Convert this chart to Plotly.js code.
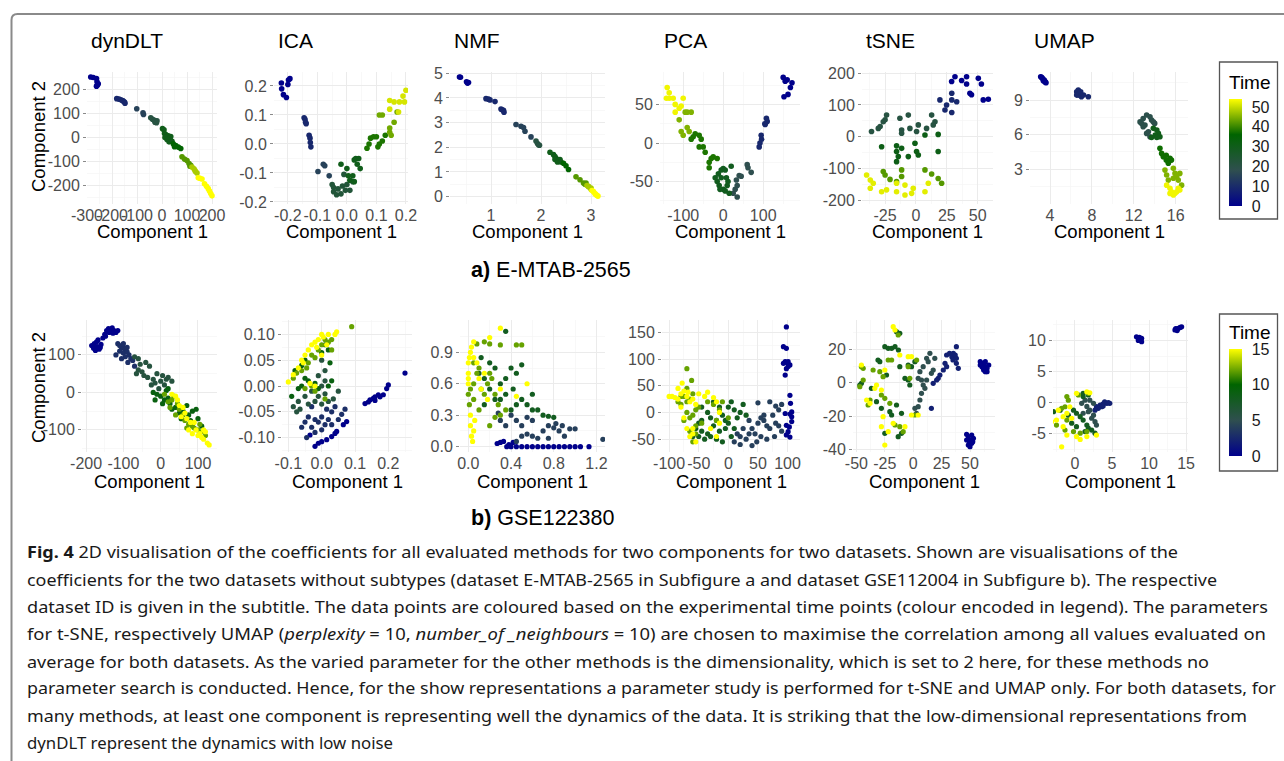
<!DOCTYPE html>
<html><head><meta charset="utf-8">
<script src="https://cdn.plot.ly/plotly-3.0.1.min.js"></script>
<style>html,body{margin:0;padding:0;background:#fff;}#chart{width:1284px;height:761px;}</style>
</head><body><div id="chart"></div>
<script>
// ---------------- DATA ----------------
const METHODS = ["dynDLT", "ICA", "NMF", "PCA", "tSNE", "UMAP"];
const DATASET_A = "E-MTAB-2565";
const DATASET_B = "GSE122380";
const TIME_MAX_A = 54;
const TIME_MAX_B = 15;
const TIME_TICKS_A = [0, 10, 20, 30, 40, 50];
const TIME_TICKS_B = [0, 5, 10, 15];

// each entry: [time, [[component1, component2], ...]]
const A_DYNDLT = [
 [0, [[-285,250],[-275,248],[-262,244],[-260,230],[-255,222],[-258,217],[-262,212]]],
 [9, [[-181,160],[-172,158],[-165,155],[-158,152],[-155,150],[-150,146],[-148,141]]],
 [15, [[-101,118],[-76,101],[-74,94]]],
 [21, [[-45,80],[-38,74],[-30,70],[-25,66],[-20,68],[-28,62],[-22,60]]],
 [30, [[2,35],[8,30],[10,15],[18,5],[15,10],[20,0],[25,5],[12,-2],[30,-5],[35,2],[20,-10],[35,-15],[28,-20],[40,-18]]],
 [36, [[45,-28],[55,-35],[50,-40],[65,-42],[75,-48]]],
 [42, [[80,-82],[90,-92],[100,-98],[108,-110],[115,-118],[112,-122]]],
 [48, [[120,-125],[128,-132],[132,-140],[140,-150],[135,-145]]],
 [54, [[145,-170],[152,-172],[160,-175],[170,-195],[178,-205],[185,-215],[190,-225],[195,-235],[200,-245]]]
];
const A_ICA = [
 [0, [[-0.222,0.21],[-0.221,0.19],[-0.215,0.17],[-0.205,0.16],[-0.198,0.22],[-0.193,0.225],[-0.2,0.205]]],
 [9, [[-0.145,0.09],[-0.142,0.085],[-0.14,0.075],[-0.138,0.07],[-0.128,0.03],[-0.125,0.02],[-0.124,0.005],[-0.122,-0.01]]],
 [15, [[-0.098,-0.095],[-0.08,-0.07],[-0.075,-0.075],[-0.06,-0.11]]],
 [23, [[-0.05,-0.14],[-0.045,-0.15],[-0.045,-0.165],[-0.035,-0.175],[-0.03,-0.155],[-0.02,-0.172],[-0.015,-0.145],[-0.005,-0.16],[0.0,-0.14],[0.01,-0.16],[0.02,-0.13],[-0.01,-0.105]]],
 [30, [[-0.02,-0.07],[0.0,-0.085],[0.005,-0.11],[0.01,-0.125],[0.025,-0.13],[0.02,-0.11],[0.04,-0.05],[0.045,-0.085],[0.03,-0.05],[0.025,-0.055],[0.035,-0.07]]],
 [38, [[0.068,-0.015],[0.075,0.0],[0.08,0.02],[0.09,0.025],[0.1,0.025],[0.11,0.0],[0.105,-0.01],[0.12,0.01],[0.13,0.03]]],
 [44, [[0.11,0.1],[0.12,0.1],[0.145,0.055],[0.16,0.075],[0.145,0.04],[0.15,0.03],[0.17,0.11]]],
 [51, [[0.145,0.15],[0.16,0.145],[0.178,0.145],[0.19,0.165],[0.2,0.185],[0.175,0.11],[0.145,0.12],[0.195,0.145]]]
];
const A_NMF = [
 [0, [[0.37,4.85],[0.39,4.84],[0.51,4.65],[0.53,4.6],[0.55,4.62]]],
 [9, [[0.9,3.97],[0.95,3.95],[0.98,3.92],[1.08,3.85],[1.2,3.55],[1.22,3.52],[1.25,3.5],[1.26,3.42]]],
 [15, [[1.5,2.92],[1.6,2.85],[1.65,2.8],[1.68,2.65],[1.8,2.42]]],
 [21, [[1.9,2.25],[1.93,2.15],[1.95,2.1],[1.97,2.08]]],
 [30, [[2.18,1.8],[2.25,1.7],[2.28,1.62],[2.3,1.55],[2.32,1.5],[2.28,1.5],[2.35,1.45],[2.38,1.5],[2.33,1.4],[2.4,1.4]]],
 [36, [[2.45,1.35],[2.5,1.25],[2.55,1.1]]],
 [42, [[2.7,0.8],[2.78,0.68],[2.85,0.55],[2.9,0.55],[2.88,0.5]]],
 [48, [[2.92,0.45],[2.95,0.4],[2.95,0.42],[3.0,0.35],[3.0,0.3]]],
 [54, [[3.02,0.25],[3.05,0.2],[3.08,0.12],[3.1,0.08],[3.12,0.04],[3.14,0.02]]]
];
const A_PCA = [
 [0, [[150,85],[155,80],[160,82],[172,78],[168,72],[162,63],[152,60]]],
 [9, [[108,32],[110,28],[104,25],[105,24],[95,10],[96,5],[92,0],[90,-5]]],
 [18, [[60,-28],[62,-32],[70,-38],[40,-42],[45,-43],[33,-48],[35,-55],[35,-70],[30,-60],[25,-65]]],
 [29, [[-15,-50],[-10,-55],[-5,-45],[0,-60],[5,-62],[10,-55],[15,-65],[20,-30],[-5,-35],[0,-33],[-20,-45],[-12,-40],[5,-35],[-8,-60],[12,-50],[8,-45]]],
 [38, [[-30,-20],[-35,-25],[-25,-18],[-15,-20],[-35,-32],[-45,-12],[-50,-5],[-55,5],[-60,10],[-70,12],[-75,8],[-80,5],[-60,-5]]],
 [45, [[-85,15],[-90,20],[-100,10],[-105,15],[-90,40],[-95,40],[-110,30],[-80,40]]],
 [53, [[-140,72],[-135,65],[-135,58],[-142,58],[-125,58],[-120,50],[-110,45],[-120,40],[-100,58],[-105,48]]]
];
const A_TSNE = [
 [0, [[28.9,174],[31.6,189],[37,177],[41,189],[41,166],[50.5,184],[53,166],[43.7,137],[45,132],[54.5,116],[58.6,118]]],
 [9, [[33,110],[29,116],[29,137],[24.8,100],[23.5,84],[29,76],[19.4,116]]],
 [21, [[12.7,68],[15.4,47],[14,37],[8.6,26],[1.9,37],[0.5,16],[-4.9,26],[-11.6,21],[-11.6,10.5],[-13,58],[-6.2,68],[-25,53],[-23.8,68],[-26.5,47],[-29,32],[-30.5,26],[-36,16]]],
 [31, [[7.3,5],[18,7],[-27.8,-32],[-15.7,-29],[-15.7,-47],[-11.6,-37],[-0.8,-21],[0.5,-47],[1.9,-58],[-6.2,-63],[-14.3,-63],[-15.7,-79],[18,-47]]],
 [42, [[-26.5,-110],[-25,-121],[-11.6,-105],[-11.6,-126],[-21,-135],[-15.7,-142],[7.3,-105],[12.7,-118],[18,-132],[20.8,-147]]],
 [52, [[-40,-121],[-37,-137],[-34.6,-147],[-37,-163],[-27.8,-174],[-23.8,-168],[-15.7,-174],[-8.9,-184],[-8.9,-153],[-3.5,-179],[-2.2,-163],[7.3,-174],[10,-147],[-15.7,-147]]]
];
const A_UMAP = [
 [0, [[3.11,11.03],[3.2,10.97],[3.3,10.88],[3.36,10.68],[3.45,10.75],[3.52,10.6],[3.62,10.5],[3.55,10.56]]],
 [9, [[6.55,9.72],[6.7,9.87],[6.86,9.58],[7.0,9.29],[6.7,9.43],[7.2,9.43],[7.66,9.29],[6.55,9.43],[6.93,9.72]]],
 [19, [[12.6,7.1],[12.75,6.97],[12.9,7.4],[13.23,7.7],[13.55,7.55],[13.7,7.26],[13.87,7.1],[14.0,6.97],[13.07,6.83],[12.9,6.68],[13.4,6.25],[13.23,6.1],[13.55,5.81]]],
 [30, [[13.87,6.54],[14.2,6.4],[14.35,6.1],[14.5,5.81],[14.05,5.95],[13.7,5.75],[14.2,5.75]]],
 [37, [[14.5,4.8],[14.66,4.36],[14.82,4.07],[15.1,4.2],[15.46,3.93],[15.6,3.78],[15.1,3.78],[15.3,3.5]]],
 [45, [[14.98,2.91],[15.14,2.48],[15.78,3.06],[15.94,2.62],[16.1,2.33],[16.4,2.62],[16.25,2.04],[16.57,1.6],[15.3,2.04],[15.78,2.2]]],
 [53, [[15.14,1.6],[15.46,1.32],[15.6,1.03],[15.78,0.74],[16.1,1.03],[16.25,1.32],[15.94,0.9],[16.4,1.17],[15.46,0.88]]]
];

const B_DYNDLT = [
 [0, [[-185,125],[-180,118],[-178,130],[-172,135],[-170,122],[-165,115],[-168,140],[-160,128],[-155,145],[-150,155],[-145,165],[-140,170],[-135,168],[-130,172],[-125,165],[-128,158],[-138,160],[-120,160],[-115,165],[-175,112],[-162,120],[-148,150]]],
 [3, [[-115,130],[-110,125],[-105,120],[-100,118],[-95,115],[-100,105],[-90,108],[-85,100],[-95,95],[-80,90],[-75,85],[-110,110],[-120,100],[-105,90],[-88,80],[-70,70],[-100,130],[-90,120]]],
 [6, [[-70,95],[-60,90],[-55,75],[-60,60],[-50,55],[-40,80],[-30,70],[-45,45],[-35,40],[-20,35],[-10,50],[-15,25],[0,30],[5,45],[10,20],[15,35],[20,40],[-25,20],[-5,10],[30,30],[-65,50]]],
 [9, [[-20,0],[-10,-5],[0,-10],[10,-20],[15,5],[20,-15],[5,-30],[25,-30],[30,-45],[40,-40],[50,-55],[60,-50],[70,-35],[75,-60],[85,-50],[95,-45],[80,-75],[100,-70],[20,10],[-15,-20],[110,-90],[55,-70]]],
 [12, [[10,-5],[20,-25],[30,-20],[35,-10],[45,-30],[50,-45],[60,-60],[65,-75],[75,-85],[85,-90],[90,-95],[100,-100],[105,-85],[110,-105],[40,-60],[70,-95],[120,-115],[25,-40]]],
 [15, [[30,-5],[40,-10],[45,-20],[50,-35],[60,-40],[65,-55],[55,-65],[70,-70],[80,-80],[90,-80],[95,-100],[100,-115],[110,-120],[115,-125],[125,-135],[130,-140],[120,-105],[85,-110],[75,-100],[105,-110],[115,-100]]]
];
const B_ICA = [
 [0, [[0.13,-0.034],[0.145,-0.027],[0.155,-0.024],[0.16,-0.021],[0.17,-0.017],[0.175,-0.021],[0.185,-0.017],[0.195,-0.005],[0.2,0.002],[0.25,0.025],[0.16,-0.028],[0.14,-0.031],
      [-0.02,-0.117],[-0.01,-0.111],[0.0,-0.108],[0.015,-0.104],[0.03,-0.098],[0.04,-0.092],[0.045,-0.088],[0.075,-0.069],[-0.035,-0.095],[0.065,-0.075]]],
 [3, [[-0.06,-0.08],[-0.05,-0.07],[-0.04,-0.06],[-0.03,-0.08],[-0.02,-0.065],[-0.01,-0.07],[0,-0.06],[0.01,-0.075],[0.02,-0.065],[0.03,-0.05],[0.04,-0.04],[-0.03,-0.04],[-0.02,-0.09],[0.03,-0.075],[0.05,-0.065],[0.07,-0.045],[0.06,-0.055],[-0.045,-0.1],[0.0,-0.085],[0.015,-0.045]]],
 [6, [[-0.07,-0.03],[-0.065,-0.045],[-0.05,-0.02],[-0.04,-0.035],[-0.03,-0.01],[-0.02,-0.03],[-0.01,-0.02],[0,-0.035],[0.01,-0.015],[0.02,-0.03],[0.035,-0.025],[0.05,-0.01],[-0.075,-0.05],[-0.085,-0.04],[0.0,0.0],[0.01,0.03],[-0.01,0.02],[0.0,0.05],[0.01,0.01]]],
 [9, [[-0.09,-0.02],[-0.07,-0.005],[-0.06,0.0],[-0.05,0.015],[-0.04,0.01],[-0.02,0.005],[-0.01,-0.005],[0.02,0.0],[0.03,0.01],[-0.06,0.04],[-0.05,0.05],[0.0,0.065],[0.02,0.07],[0.01,0.08],[-0.08,0.03],[0.025,0.045]]],
 [12, [[-0.085,0.015],[-0.075,0.025],[-0.06,0.03],[-0.04,0.045],[-0.03,0.06],[-0.045,0.035],[-0.02,0.055],[-0.01,0.07],[0.0,0.08],[0.01,0.09],[0.02,0.085],[0.03,0.07],[-0.05,-0.005],[-0.02,-0.01],[0.03,0.09],[0.09,0.115],[-0.03,0.0],[0.01,-0.025]]],
 [15, [[-0.1,0.008],[-0.085,0.022],[-0.07,0.035],[-0.055,0.045],[-0.05,0.06],[-0.04,0.07],[-0.03,0.08],[-0.02,0.085],[-0.01,0.09],[0.0,0.1],[0.005,0.095],[0.02,0.1],[0.04,0.1],[0.045,0.105],[-0.06,0.05],[-0.015,0.075],[0.015,0.08],[0.0,0.06],[-0.02,0.0],[-0.035,0.005]]]
];
const B_NMF = [
 [0, [[0.36,0.0],[0.4,0.0],[0.45,0.0],[0.5,0.0],[0.55,0.0],[0.6,0.0],[0.65,0.0],[0.7,0.0],[0.75,0.0],[0.8,0.0],[0.85,0.0],[0.9,0.0],[0.95,0.0],[1.0,0.0],[1.05,0.0],[1.13,0.0],[0.38,0.02],[0.42,0.04],[0.3,0.04],[0.27,0.03],[0.33,0.05]]],
 [4, [[0.28,0.32],[0.3,0.25],[0.35,0.2],[0.4,0.3],[0.45,0.25],[0.5,0.2],[0.55,0.12],[0.6,0.1],[0.7,0.15],[0.75,0.2],[0.8,0.18],[0.85,0.15],[0.9,0.1],[0.95,0.17],[1.0,0.17],[0.82,0.22],[0.65,0.08],[0.45,0.05],[0.5,0.1],[0.75,0.08],[0.88,0.2],[1.26,0.07],[0.6,0.25],[0.55,0.28]]],
 [8, [[0.1,0.7],[0.15,0.65],[0.2,0.8],[0.25,0.75],[0.3,0.6],[0.35,0.65],[0.4,0.75],[0.45,0.7],[0.5,0.78],[0.42,0.55],[0.5,0.45],[0.55,0.4],[0.6,0.5],[0.65,0.35],[0.7,0.3],[0.75,0.29],[0.8,0.28],[0.3,0.45],[0.35,0.5],[0.2,0.55],[0.25,0.45],[0.15,0.4],[0.6,0.35],[0.4,0.35],[0.45,0.4],[0.35,1.1],[0.12,0.85]]],
 [12, [[0.0,0.5],[0.02,0.55],[0.05,0.6],[0.08,0.7],[0.1,0.75],[0.12,0.55],[0.15,0.5],[0.18,0.6],[0.2,0.7],[0.22,0.65],[0.25,0.5],[0.28,0.4],[0.3,0.3],[0.35,0.35],[0.05,0.45],[0.1,0.35],[0.2,0.2],[0.3,0.97],[0.5,0.97],[0.45,0.97],[0.05,0.8],[0.15,1.0],[0.2,0.98],[0.08,0.98],[0.25,0.28],[0.01,0.4]]],
 [15, [[0.0,0.6],[0.0,0.7],[0.0,0.8],[0.01,0.85],[0.02,0.9],[0.03,0.95],[0.05,0.85],[0.08,0.8],[0.1,0.65],[0.12,0.55],[0.15,0.7],[0.18,0.45],[0.2,1.04],[0.3,1.13],[0.05,1.0],[0.0,0.65],[0.04,0.05],[0.03,0.1],[0.05,0.15],[0.02,0.2],[0.06,0.25],[0.02,0.3],[0.45,0.48],[0.55,0.6],[0.3,0.55]]]
];
const B_PCA = [
 [0, [[98,160],[93,123],[98,120],[96,95],[99,93],[101,95],[104,89],[98,82],[96,70],[101,86],[93,92],[104,32],[105,17],[107,1],[104,-3],[107,-17],[98,-24],[101,-36],[98,-42],[104,-46],[107,-8],[103,-27],[96,-2]]],
 [4, [[40,-30],[45,-40],[50,-20],[55,-10],[60,-15],[65,-25],[70,-30],[75,-5],[80,-20],[85,5],[90,-35],[78,-45],[65,-50],[55,-45],[48,-55],[40,-62],[35,-40],[30,-50],[25,-30],[20,-45],[15,-40],[60,-5],[70,20],[80,12],[50,18],[90,15],[35,-15],[85,-25],[10,-55],[20,-60]]],
 [8, [[-30,-10],[-20,-15],[-10,-5],[0,10],[5,20],[10,5],[15,-10],[20,0],[25,15],[30,-5],[0,-20],[-5,-30],[10,-30],[-15,-35],[-25,-25],[-35,-40],[-45,-35],[-55,-30],[-40,-50],[-30,-45],[-50,-45],[-20,-50],[-45,-15],[-60,-45],[-10,-55],[5,-45],[-35,0],[-15,10],[-25,20],[-45,10],[-5,-15],[-50,-20]]],
 [12, [[-70,0],[-65,-10],[-75,-15],[-60,-5],[-55,5],[-50,10],[-65,25],[-60,35],[-70,20],[-80,15],[-75,30],[-55,-25],[-65,-35],[-60,-55],[-55,-40],[-45,-20],[-35,20],[-25,15],[-15,5],[-20,-15],[-10,20],[0,-10],[-70,45],[-62,60],[-70,82],[-80,30],[-85,20]]],
 [15, [[-100,30],[-95,30],[-90,28],[-85,25],[-80,35],[-75,40],[-70,30],[-65,20],[-85,45],[-78,55],[-68,38],[-60,25],[-55,15],[-50,35],[-40,30],[-35,38],[-25,28],[-20,20],[-15,0],[-15,-20],[-20,-45],[-30,-30],[-60,-40],[-70,-30],[-75,-10],[-65,-45],[-55,-55],[-60,-30],[-80,10]]]
];
const B_TSNE = [
 [0, [[59,12.6],[60.5,11.6],[62,10.6],[63.5,9.6],[65,8.6],[62,7.6],[65,6.6],[60.5,9.6],[63.5,12.6],[66.5,10.6],[59,10.6],[63.5,6.6],[61.7,8.6],
      [47,-31],[48.5,-32.4],[50,-34.4],[51.5,-36.4],[48.5,-37.4],[50,-38.4],[53,-33.4],[47,-34.4],[51.5,-31.4],[49.4,-36],[52.4,-35.4]]],
 [2, [[29.4,16.6],[32,17.6],[34,15.6],[35.3,17.6],[37,16.6],[38,14.6],[35,13.6],[38,11.6],[39.7,8.6],[38,21.6],[28,11.6],[29.4,9.6],[26.5,7.6],[23.5,4.6],[22,2.6],[20.6,1.6],[17.6,-0.4],[16,-15.4]]],
 [5, [[14.7,17.6],[11.8,14.6],[13.2,12.6],[8.8,9.6],[5.9,6.6],[4.4,2.6],[7.3,1.6],[8.8,-1.4],[10.3,-3.4],[7.3,-6.4],[5.9,-10.4],[4.4,-14.4],[2.9,-18.4],[1.5,-15.4],[19,14.6],[17.6,7.6],[16,5.6],[11.8,1.6]]],
 [8, [[-3,-1.4],[-4.4,1.6],[-7.3,2.6],[-1.5,9.6],[-4.4,10.6],[1.5,12.6],[-11.8,9.6],[-19,20.6],[-25,21.6],[-22,20.6],[-16,21.6],[-13,19.6],[-29.4,12.6],[-31,13.6],[-23.5,4.6],[-36.8,-3.4],[-32.3,-11.4],[-28,-15.4],[-20.6,-17.4],[-19,-19.4],[-14.7,-13.4],[-10.3,-18.4],[-13.2,-32.4],[-25,-30.4],[-10.3,-30.4],[-11.8,29.6],[-14.7,30.6],[-47,-1.4],[-45.6,-0.4]]],
 [12, [[-45.6,9.6],[-44,8.6],[-35.3,7.6],[-29.4,6.6],[-26.5,3.6],[-28,-7.4],[-25,-9.4],[-38,-10.4],[-39.7,-13.4],[-20.6,-12.4],[-16,-25.4],[-11.8,-26.4],[-8.8,-29.4],[-4.4,9.6],[-3,2.6],[3,13.6],[1.5,-19.4],[-44,1.6],[-47,-2.4],[-22,13.6],[-19,13.6],[-13.2,28.6]]],
 [15, [[-45.6,10.6],[-32.3,-1.4],[-33.8,-3.4],[-25,7.6],[-28,-26.4],[-26.5,-20.4],[-22,-29.4],[-17.6,-24.4],[-7.3,-26.4],[-4.4,15.6],[-1.5,15.6],[4.4,-19.4],[-1.5,-19.4],[-17.6,33.6],[-16,31.6],[-25,-37.4],[-38,-12.4],[-28,-4.4],[-11.8,16.6],[-41,-10.4]]]
];
const B_UMAP = [
 [0, [[13.5,11.7],[13.7,11.85],[13.95,11.95],[14.2,12.1],[14.4,12.2],[13.8,11.6],[13.6,11.9],
      [8.3,10.6],[8.55,10.35],[8.8,10.1],[9.0,9.8],[8.7,10.5],[8.9,10.2],[8.55,10.0],[9.0,10.35]]],
 [2, [[2.9,-0.64],[3.4,-0.4],[3.8,-0.2],[4.3,-0.1],[4.7,-0.1],[4.0,0.15],[3.6,-0.64],[3.15,-0.9],[2.7,-1.2],[4.5,0.0],[3.8,-0.55]]],
 [5, [[2.5,-2],[2,-1.2],[1.6,-0.6],[1.8,-1.45],[2.25,-2.5],[2.7,-3.05],[2.9,-3.6],[1.1,-1.7],[0.9,-0.1],[1.35,0.4],[2.0,0.4],[2.5,-0.1]]],
 [8, [[0.2,-1.7],[0.7,-2.25],[1.1,-2.8],[1.6,-3.6],[1.8,-4.1],[2.25,-4.4],[1.35,-4.65],[0.2,-3.85],[-0.45,-3.3],[-0.9,-2],[-0.2,-1.2],[1.1,1.0],[1.8,1.25],[1.1,1.5],[2.7,-4.9],[-2.9,-1.45],[-2,-1.2]]],
 [12, [[-1.1,1.0],[-0.9,0.4],[-1.35,-0.65],[-1.8,-0.9],[-1.1,-2.8],[-0.2,-4.65],[0.7,-4.9],[1.6,-4.65],[1.8,1.5],[0.45,1.25],[-3.4,-2],[-2.5,-3.6],[-1.35,-4.4]]],
 [15, [[-3.4,-1.7],[-3.15,-3.05],[-2.5,-2.8],[-1.6,-3.85],[-1.1,-5.2],[0.2,-5.45],[0.7,-5.9],[1.6,-5.45],[2.9,-5.2],[-1.8,-7.1],[1.6,1.75],[2.0,1.6],[0.2,1.5],[-0.7,-0.65],[-1.1,-1.7],[-1.6,-2.25],[-0.45,-2.5],[-2.25,-1.2]]]
];

// tick values / labels
const TK = {
 a_dyn_x: [-300,-200,-100,0,100,200], a_dyn_y: [-200,-100,0,100,200],
 a_ica_x: [-0.2,-0.1,0,0.1,0.2], a_ica_xl: ["-0.2","-0.1","0.0","0.1","0.2"],
 a_ica_y: [-0.2,-0.1,0,0.1,0.2], a_ica_yl: ["-0.2","-0.1","0.0","0.1","0.2"],
 a_nmf_x: [1,2,3], a_nmf_y: [0,1,2,3,4,5],
 a_pca_x: [-100,0,100], a_pca_y: [-50,0,50],
 a_tsne_x: [-25,0,25,50], a_tsne_y: [-200,-100,0,100,200],
 a_umap_x: [4,8,12,16], a_umap_y: [3,6,9],
 b_dyn_x: [-200,-100,0,100], b_dyn_y: [-100,0,100],
 b_ica_x: [-0.1,0,0.1,0.2], b_ica_xl: ["-0.1","0.0","0.1","0.2"],
 b_ica_y: [-0.1,-0.05,0,0.05,0.1], b_ica_yl: ["-0.10","-0.05","0.00","0.05","0.10"],
 b_nmf_x: [0,0.4,0.8,1.2], b_nmf_xl: ["0.0","0.4","0.8","1.2"],
 b_nmf_y: [0,0.3,0.6,0.9], b_nmf_yl: ["0.0","0.3","0.6","0.9"],
 b_pca_x: [-100,-50,0,50,100], b_pca_y: [-50,0,50,100,150],
 b_tsne_x: [-50,-25,0,25,50], b_tsne_y: [-40,-20,0,20],
 b_umap_x: [0,5,10,15], b_umap_y: [-5,0,5,10]
};

const CAPTION = [
 "<b>Fig. 4</b> 2D visualisation of the coefficients for all evaluated methods for two components for two datasets. Shown are visualisations of the",
 "coefficients for the two datasets without subtypes (dataset E-MTAB-2565 in Subfigure a and dataset GSE112004 in Subfigure b). The respective",
 "dataset ID is given in the subtitle. The data points are coloured based on the experimental time points (colour encoded in legend). The parameters",
 "for t-SNE, respectively UMAP (<i>perplexity</i> = 10, <i>number_of _neighbours</i> = 10) are chosen to maximise the correlation among all values evaluated on",
 "average for both datasets. As the varied parameter for the other methods is the dimensionality, which is set to 2 here, for these methods no",
 "parameter search is conducted. Hence, for the show representations a parameter study is performed for t-SNE and UMAP only. For both datasets, for",
 "many methods, at least one component is representing well the dynamics of the data. It is striking that the low-dimensional representations from",
 "dynDLT represent the dynamics with low noise"
];

// ---------------- LAYOUT ----------------
const W = 1284, H = 761;
const PX = v => v / W, PY = v => 1 - v / H;
const FONT = "Liberation Sans";
const CSCALE = [[0,'#00008B'],[1/3,'#2F4F4F'],[2/3,'#006400'],[1,'#FFFF00']];

const PANELS = [
 {d:A_DYNDLT, box:[87,217,72,204], xr:[-300,220], yr:[-279,271], xt:TK.a_dyn_x, yt:TK.a_dyn_y, ca:'coloraxis'},
 {d:A_ICA, box:[274,408,72,204], xr:[-0.247,0.207], yr:[-0.207,0.248], xt:TK.a_ica_x, xl:TK.a_ica_xl, yt:TK.a_ica_y, yl:TK.a_ica_yl, ca:'coloraxis'},
 {d:A_NMF, box:[450,605,72,204], xr:[0.18,3.28], yr:[-0.3,5.05], xt:TK.a_nmf_x, yt:TK.a_nmf_y, ca:'coloraxis'},
 {d:A_PCA, box:[660,800,72,204], xr:[-158,192], yr:[-79,92], xt:TK.a_pca_x, yt:TK.a_pca_y, ca:'coloraxis'},
 {d:A_TSNE, box:[862,993,72,204], xr:[-43.7,62.4], yr:[-212.6,204], xt:TK.a_tsne_x, yt:TK.a_tsne_y, ca:'coloraxis'},
 {d:A_UMAP, box:[1030,1188,72,204], xr:[2.09,17.18], yr:[-0.04,11.44], xt:TK.a_umap_x, yt:TK.a_umap_y, ca:'coloraxis'},
 {d:B_DYNDLT, box:[82,217,320,452], xr:[-211,151], yr:[-159,193], xt:TK.b_dyn_x, yt:TK.b_dyn_y, ca:'coloraxis2'},
 {d:B_ICA, box:[282,412,320,452], xr:[-0.119,0.271], yr:[-0.128,0.128], xt:TK.b_ica_x, xl:TK.b_ica_xl, yt:TK.b_ica_y, yl:TK.b_ica_yl, ca:'coloraxis2'},
 {d:B_NMF, box:[460,605,320,452], xr:[-0.078,1.28], yr:[-0.051,1.208], xt:TK.b_nmf_x, xl:TK.b_nmf_xl, yt:TK.b_nmf_y, yl:TK.b_nmf_yl, ca:'coloraxis2'},
 {d:B_PCA, box:[662,800,320,452], xr:[-112,121], yr:[-74,173], xt:TK.b_pca_x, yt:TK.b_pca_y, ca:'coloraxis2'},
 {d:B_TSNE, box:[853,995,320,452], xr:[-53,72], yr:[-41.6,37.6], xt:TK.b_tsne_x, yt:TK.b_tsne_y, ca:'coloraxis2'},
 {d:B_UMAP, box:[1053,1188,320,452], xr:[-2.97,15.26], yr:[-7.93,13.3], xt:TK.b_umap_x, yt:TK.b_umap_y, ca:'coloraxis2'}
];

function minorVals(vals, range){
  const step = vals[1] - vals[0], out = [];
  for (let k = -2; k <= vals.length + 2; k++) {
    const v = vals[0] + (k - 0.5) * step;
    if (v > range[0] && v < range[1]) out.push(v);
  }
  return out;
}
function axis(dom, range, vals, labels, anchor, isY){
  return {
    domain: dom, range: range, anchor: anchor, fixedrange: true, automargin: false,
    tickmode: 'array', tickvals: vals, ticktext: labels || vals.map(String), tickangle: 0,
    showgrid: true, gridcolor: '#EBEBEB', gridwidth: 1, zeroline: false, showline: false,
    ticks: isY ? 'outside' : '', ticklen: 3, tickwidth: 1, tickcolor: '#8a8a8a',
    tickfont: {family: FONT, size: 16, color: '#4D4D4D'},
    minor: {tickmode: 'array', tickvals: minorVals(vals, range), showgrid: true, gridcolor: '#F5F5F5', gridwidth: 0.7, ticks: ''}
  };
}

const traces = [];
const layout = {
  width: W, height: H, margin: {l:0, r:0, t:0, b:0},
  paper_bgcolor: '#fff', plot_bgcolor: '#fff', showlegend: false,
  font: {family: FONT, color: '#000'},
  annotations: [], shapes: []
};

PANELS.forEach((p, i) => {
  const n = i + 1, xs = [], ys = [], ts = [];
  p.d.forEach(g => g[1].forEach(pt => { xs.push(pt[0]); ys.push(pt[1]); ts.push(g[0]); }));
  const sx = n === 1 ? '' : String(n);
  traces.push({
    type: 'scatter', mode: 'markers', x: xs, y: ys, xaxis: 'x' + sx, yaxis: 'y' + sx,
    marker: {color: ts, coloraxis: p.ca, size: i < 6 ? 5.6 : 5.2, line: {width: 0}},
    hoverinfo: 'skip'
  });
  const [l, r, t, b] = p.box;
  layout['xaxis' + sx] = axis([PX(l), PX(r)], p.xr, p.xt, p.xl, 'y' + sx, false);
  layout['yaxis' + sx] = axis([PY(b), PY(t)], p.yr, p.yt, p.yl, 'x' + sx, true);
  layout.annotations.push({text: 'Component 1', xref: 'paper', yref: 'paper', x: PX((l + r) / 2), y: PY(i < 6 ? 231.5 : 481.5),
    xanchor: 'center', yanchor: 'middle', showarrow: false, font: {family: FONT, size: 18.5, color: '#000'}});
  if (i < 6) {
    layout.annotations.push({text: METHODS[i], xref: 'paper', yref: 'paper', x: PX(l + 2), y: PY(41),
      xanchor: 'left', yanchor: 'middle', showarrow: false, font: {family: FONT, size: 21, color: '#000'}});
  }
});

[137, 388].forEach(yy => layout.annotations.push({text: 'Component 2', xref: 'paper', yref: 'paper', x: PX(38), y: PY(yy),
  xanchor: 'center', yanchor: 'middle', textangle: -90, showarrow: false, font: {family: FONT, size: 18.5, color: '#000'}}));
layout.annotations.push({text: '<b>a)</b> ' + DATASET_A, xref: 'paper', yref: 'paper', x: PX(469), y: PY(270),
  xanchor: 'left', yanchor: 'middle', showarrow: false, font: {family: FONT, size: 21.5, color: '#000'}});
layout.annotations.push({text: '<b>b)</b> ' + DATASET_B, xref: 'paper', yref: 'paper', x: PX(469), y: PY(518),
  xanchor: 'left', yanchor: 'middle', showarrow: false, font: {family: FONT, size: 21.5, color: '#000'}});
[82, 332].forEach(yy => layout.annotations.push({text: 'Time', xref: 'paper', yref: 'paper', x: PX(1227), y: PY(yy),
  xanchor: 'left', yanchor: 'middle', showarrow: false, font: {family: FONT, size: 19, color: '#000'}}));
[[62, 219], [314, 471]].forEach(bb => layout.shapes.push({type: 'rect', xref: 'paper', yref: 'paper',
  x0: PX(1219.5), x1: PX(1277.5), y0: PY(bb[1]), y1: PY(bb[0]), line: {color: '#555', width: 1.3}, fillcolor: 'rgba(0,0,0,0)'}));
layout.shapes.push({type: 'path', xref: 'paper', yref: 'paper',
  path: `M ${PX(11.5)},${PY(770)} L ${PX(11.5)},${PY(20)} Q ${PX(11.5)},${PY(14)} ${PX(17.5)},${PY(14)} L ${PX(1290)},${PY(14)}`,
  line: {color: '#8a8a8a', width: 2}});

function cbar(yc, vals){
  return {x: PX(1229), xanchor: 'left', xref: 'paper', y: PY(yc), yanchor: 'middle', yref: 'paper',
    len: 107, lenmode: 'pixels', thickness: 13, thicknessmode: 'pixels', xpad: 0, ypad: 0,
    outlinewidth: 0, tickmode: 'array', tickvals: vals, ticks: 'outside', ticklen: 7, tickcolor: 'rgba(255,255,255,0)',
    tickfont: {family: FONT, size: 16, color: '#1a1a1a'}, title: {text: ''}};
}
layout.coloraxis = {colorscale: CSCALE, cmin: 0, cmax: TIME_MAX_A, colorbar: cbar(152.5, TIME_TICKS_A)};
layout.coloraxis2 = {colorscale: CSCALE, cmin: 0, cmax: TIME_MAX_B, colorbar: cbar(402.5, TIME_TICKS_B)};

const CAP_FONT = "Noto Sans";
const CAP_Y = [552, 580, 607, 634, 662, 688, 716, 743];
const CAP_RIGHT = [1178, 1217, 1268, 1266, 1209, 1276, 1247, 393];
const CAP_LEFT = 27;
const capIdx = [];
CAPTION.forEach((txt, k) => {
  capIdx.push(layout.annotations.length);
  layout.annotations.push({text: txt, xref: 'paper', yref: 'paper', x: PX(CAP_LEFT - 1), y: PY(CAP_Y[k]),
    xanchor: 'left', yanchor: 'middle', align: 'left', showarrow: false, borderpad: 0,
    font: {family: CAP_FONT, size: 16, color: '#1a1a1a'}});
});

const gd = document.getElementById('chart');
Plotly.newPlot(gd, traces, layout, {staticPlot: true, displayModeBar: false}).then(() => {
  capIdx.forEach((ai, k) => {
    const el = gd.querySelector('.annotation[data-index="' + ai + '"] text.annotation-text');
    if (el) {
      el.setAttribute('textLength', CAP_RIGHT[k] - CAP_LEFT);
      el.setAttribute('lengthAdjust', 'spacingAndGlyphs');
    }
  });
});
</script></body></html>
